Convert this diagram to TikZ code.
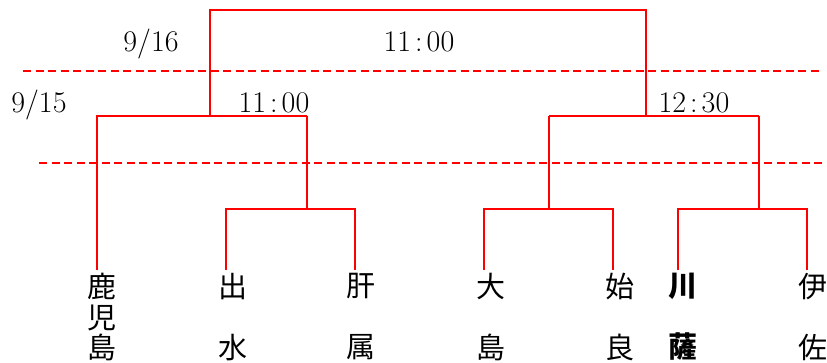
\documentclass[tikz,border=0pt]{standalone}
\usepackage{fontspec}
\newfontfamily\cjk{Noto Sans CJK JP}
\begin{document}
\begin{tikzpicture}[x=1pt,y=-1pt,
  br/.style={red, line width=2pt},
  dayline/.style={red, line width=1.8pt, dash pattern=on 8pt off 4.5pt},
  lbl/.style={font=\fontsize{30}{30}\selectfont, inner sep=0pt, anchor=base},
  team/.style={font=\cjk\fontsize{29}{30.5}\selectfont, align=center, inner sep=0pt, anchor=north}]
\useasboundingbox (0,0) rectangle (827,363);
% day separators
\coordinate (d1a) at (23,71);  \coordinate (d1b) at (822,71);
\coordinate (d2a) at (39,163); \coordinate (d2b) at (822,163);
\draw[dayline] (d1a) -- (d1b);
\draw[dayline] (d2a) -- (d2b);
% labels
\node[lbl] (l916) at (151,52) {9/16};
\node[lbl] (lf) at (419,52) {11\kern4pt:\kern4pt00};
\node[lbl] (l915) at (39,113) {9/15};
\node[lbl] (ls1) at (274,113) {11\kern4pt:\kern4pt00};
\node[lbl] (ls2) at (694,113) {12\kern4pt:\kern4pt30};
% teams
\node[team] (t1) at (102,273) {鹿\\児\\島};
\node[team] (t2) at (233,273) {出\\[30.5pt]水};
\node[team] (t3) at (361,273) {肝\\[30.5pt]属};
\node[team] (t4) at (491,273) {大\\[30.5pt]島};
\node[team] (t5) at (620,273) {始\\[30.5pt]良};
\node[team] (t6) at (683,273) {\bfseries 川\\[30.5pt]\bfseries 薩};
\node[team] (t7) at (813,273) {伊\\[30.5pt]佐};
% line ends above team names
\coordinate (e1) at (97,270);
\coordinate (e2) at (226,270);
\coordinate (e3) at (355,270);
\coordinate (e4) at (484,270);
\coordinate (e5) at (613,270);
\coordinate (e6) at (678,270);
\coordinate (e7) at (807,270);
% junctions
\coordinate (j1) at (307,209);
\coordinate (j2) at (549,209);
\coordinate (j3) at (759,209);
\coordinate (k1) at (210,116);
\coordinate (k2) at (646,116);
\coordinate (top) at (0,10);
% first round
\draw[br] (e2) |- (j1) -| (e3);
\draw[br] (j1) -- (j1 |- k1);
\draw[br] (e4) |- (j2) -| (e5);
\draw[br] (j2) -- (j2 |- k1);
\draw[br] (e6) |- (j3) -| (e7);
\draw[br] (j3) -- (j3 |- k1);
% semifinals
\draw[br] (e1) |- (j1 |- k1);
\draw[br] (j2 |- k2) -- (j3 |- k2);
\draw[br] (k1) |- (k2 |- top) -- (k2);
\end{tikzpicture}
\end{document}
